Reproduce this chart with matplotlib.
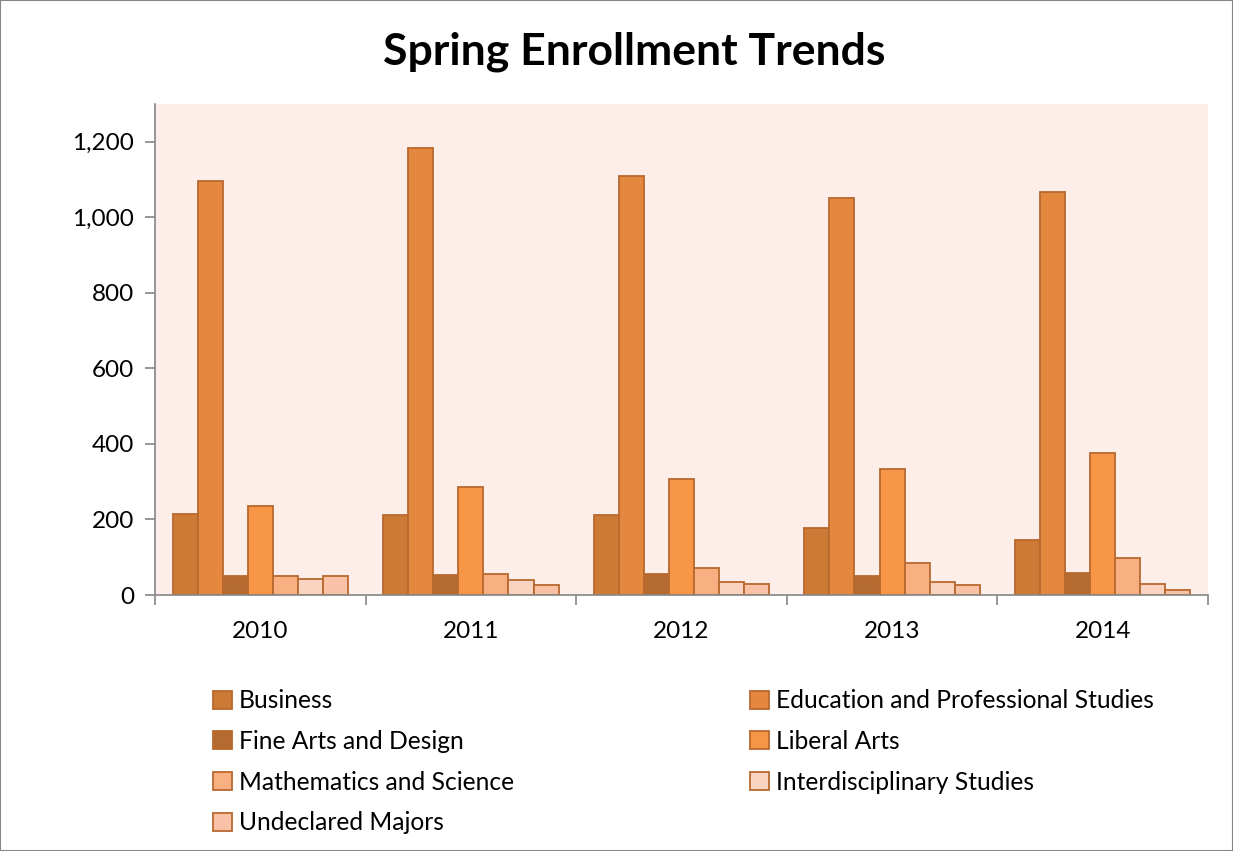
import numpy as np
import matplotlib.pyplot as plt
from matplotlib.patches import Rectangle

plt.rcParams['font.family'] = ['Lato', 'DejaVu Sans']

years = ['2010', '2011', '2012', '2013', '2014']
business = [214, 212, 212, 178, 146]
education = [1097, 1184, 1110, 1052, 1068]
fine_arts = [50, 53, 56, 50, 58]
liberal_arts = [236, 286, 307, 334, 376]
math_science = [50, 56, 72, 84, 98]
interdisciplinary = [42, 40, 34, 34, 28]
undeclared = [50, 26, 28, 26, 12]

series = [
    ("Business", business, "#CD7A36"),
    ("Education and Professional Studies", education, "#E3883E"),
    ("Fine Arts and Design", fine_arts, "#B56B30"),
    ("Liberal Arts", liberal_arts, "#F79646"),
    ("Mathematics and Science", math_science, "#F8AF82"),
    ("Interdisciplinary Studies", interdisciplinary, "#FAD4C0"),
    ("Undeclared Majors", undeclared, "#F9C2A6"),
]

fig = plt.figure(figsize=(12.33, 8.51), dpi=100)
fig.patches.append(Rectangle((0, 0), 1, 1, transform=fig.transFigure,
                             fill=False, edgecolor="#868686", linewidth=1.5))
ax = fig.add_axes([0.1257, 0.3008, 0.854, 0.5770])
ax.set_facecolor("#FDEEE9")

x = np.arange(len(years))
bar_w = 0.119
n = len(series)
handles = []
for i, (name, vals, col) in enumerate(series):
    offs = (i - (n - 1) / 2) * bar_w
    b = ax.bar(x + offs, vals, bar_w, color=col, edgecolor="#B8692E",
               linewidth=1.3, label=name, zorder=2)
    handles.append(b)

ax.set_xlim(-0.5, len(years) - 0.5)
ax.set_ylim(0, 1300)
ax.set_yticks(np.arange(0, 1201, 200))
ax.set_yticklabels([f"{v:,}" for v in range(0, 1201, 200)])
ax.set_xticks(x)
ax.set_xticklabels(years)
ax.set_xticks(np.arange(-0.5, len(years)), minor=True)
ax.tick_params(axis='x', which='major', length=0, pad=19, labelsize=17.5)
ax.tick_params(axis='x', which='minor', length=7, color="#868686", width=1.2)
ax.tick_params(axis='y', length=7, color="#868686", width=1.2, labelsize=17.5, pad=8)

for s in ['top', 'right']:
    ax.spines[s].set_visible(False)
for s in ['left', 'bottom']:
    ax.spines[s].set_color("#868686")
    ax.spines[s].set_linewidth(1.2)

fig.text(0.514, 0.939, "Spring Enrollment Trends", fontsize=32, fontweight='bold',
         ha='center', va='center')

order = [0, 2, 4, 6, 1, 3, 5]
leg = fig.legend([handles[i] for i in order], [series[i][0] for i in order],
                 loc='upper left', bbox_to_anchor=(0.165, 0.2015), ncol=2,
                 frameon=False, fontsize=17.7, handlelength=0.75, handleheight=0.75,
                 handletextpad=0.3, labelspacing=0.72, columnspacing=9.6,
                 borderaxespad=0)

fig.savefig("out.png", dpi=100)
